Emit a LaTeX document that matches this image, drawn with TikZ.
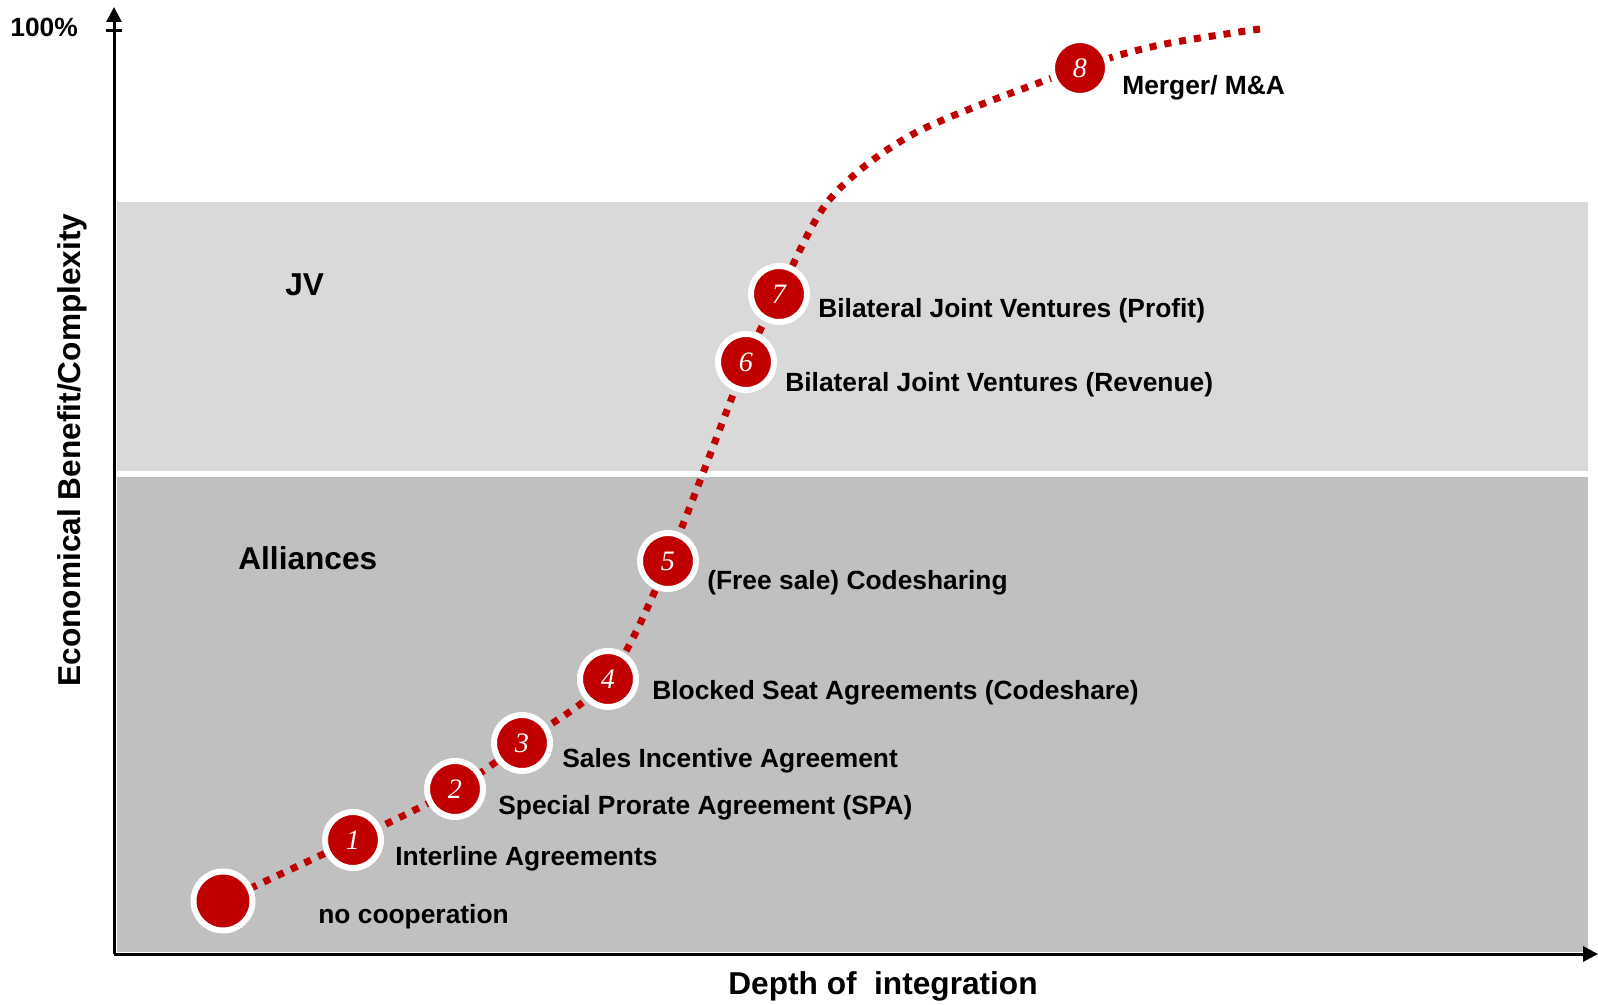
\documentclass[tikz,border=0pt]{standalone}
\usepackage{fontspec}
\setmainfont{Liberation Sans}
\newfontfamily\numfont{Liberation Serif}
\usetikzlibrary{arrows.meta,backgrounds}

\definecolor{stagered}{RGB}{192,0,0}
\definecolor{jvgrey}{RGB}{217,217,217}
\definecolor{algrey}{RGB}{192,192,192}

\begin{document}
\begin{tikzpicture}[
  font=\fontsize{15}{18}\selectfont\bfseries,
  stage/.style={circle, fill=stagered, draw=white, line width=0.12cm, minimum size=1.12cm, inner sep=0pt,
                text=white, font=\fontsize{16}{16}\selectfont\numfont\itshape},
  lbl/.style={anchor=base west, inner sep=0pt},
  zone/.style={anchor=base west, inner sep=0pt, font=\fontsize{18}{21}\selectfont\bfseries},
  axis/.style={line width=0.06cm, -{Triangle[width=0.3cm,length=0.3cm]}},
  route/.style={stagered, line width=0.14cm, dash pattern=on 0.14cm off 0.16cm}
]
\useasboundingbox (-2.28,-1.00) rectangle (29.68,19.08);

% the two zones
\begin{scope}[on background layer]
  \fill[jvgrey] (0.06,9.66) rectangle (29.48,15.04);
  \fill[algrey] (0.06,0.04) rectangle (29.48,9.54);
\end{scope}
\node[zone] (jv) at (3.42,13.16) {JV};
\node[zone] (alliances) at (2.48,7.70) {Alliances};

% axes
\coordinate (o) at (0,0);
\coordinate (ytop) at (0,18.94);
\coordinate (xend) at (29.68,0);
\draw[axis] (o) -- (ytop);
\draw[axis] (o) -- (xend);
\draw[line width=0.06cm] (-0.16,18.46) -- (0.16,18.46);
\node[anchor=base west, inner sep=0pt] (full) at (-2.08,18.34) {100\%};
\node[anchor=base, inner sep=0pt, font=\fontsize{18}{21}\selectfont\bfseries] (xlab) at (15.38,-0.80) {Depth of~ integration};
\node[anchor=base, inner sep=0pt, rotate=90, font=\fontsize{18}{21}\selectfont\bfseries] (ylab) at (-0.66,10.08) {Economical Benefit/Complexity};

% stages of cooperation
\node[stage, minimum size=1.18cm] (s0) at (2.18,1.06) {};
\node[stage] (s1) at (4.78,2.28) {1};
\node[stage] (s2) at (6.82,3.30) {2};
\node[stage] (s3) at (8.16,4.22) {3};
\node[stage] (s4) at (9.88,5.50) {4};
\node[stage] (s5) at (11.08,7.86) {5};
\node[stage] (s6) at (12.64,11.84) {6};
\node[stage] (s7) at (13.30,13.20) {7};
\node[stage] (s8) at (19.32,17.72) {8};

\node[lbl] (l0) at (4.08,0.62) {no cooperation};
\node[lbl] (l1) at (5.62,1.78) {Interline Agreements};
\node[lbl] (l2) at (7.68,2.80) {Special Prorate Agreement (SPA)};
\node[lbl] (l3) at (8.96,3.74) {Sales Incentive Agreement};
\node[lbl] (l4) at (10.76,5.10) {Blocked Seat Agreements (Codeshare)};
\node[lbl] (l5) at (11.86,7.30) {(Free sale) Codesharing};
\node[lbl] (l6) at (13.42,11.24) {Bilateral Joint Ventures (Revenue)};
\node[lbl] (l7) at (14.08,12.72) {Bilateral Joint Ventures (Profit)};
\node[lbl] (l8) at (20.16,17.18) {Merger/ M\&A};

% dotted curve behind the stages
\begin{scope}[on background layer]
  \draw[route] plot[smooth, tension=0.5] coordinates {(s0.center) (s1.center) (s2.center) (s3.center)
    (s4.center) (s5.center) (s6.center) (s7.center) (14.32,15.10) (16.06,16.44)
    (s8.center) (20.92,18.18) (22.92,18.50)};
\end{scope}
\end{tikzpicture}
\end{document}
